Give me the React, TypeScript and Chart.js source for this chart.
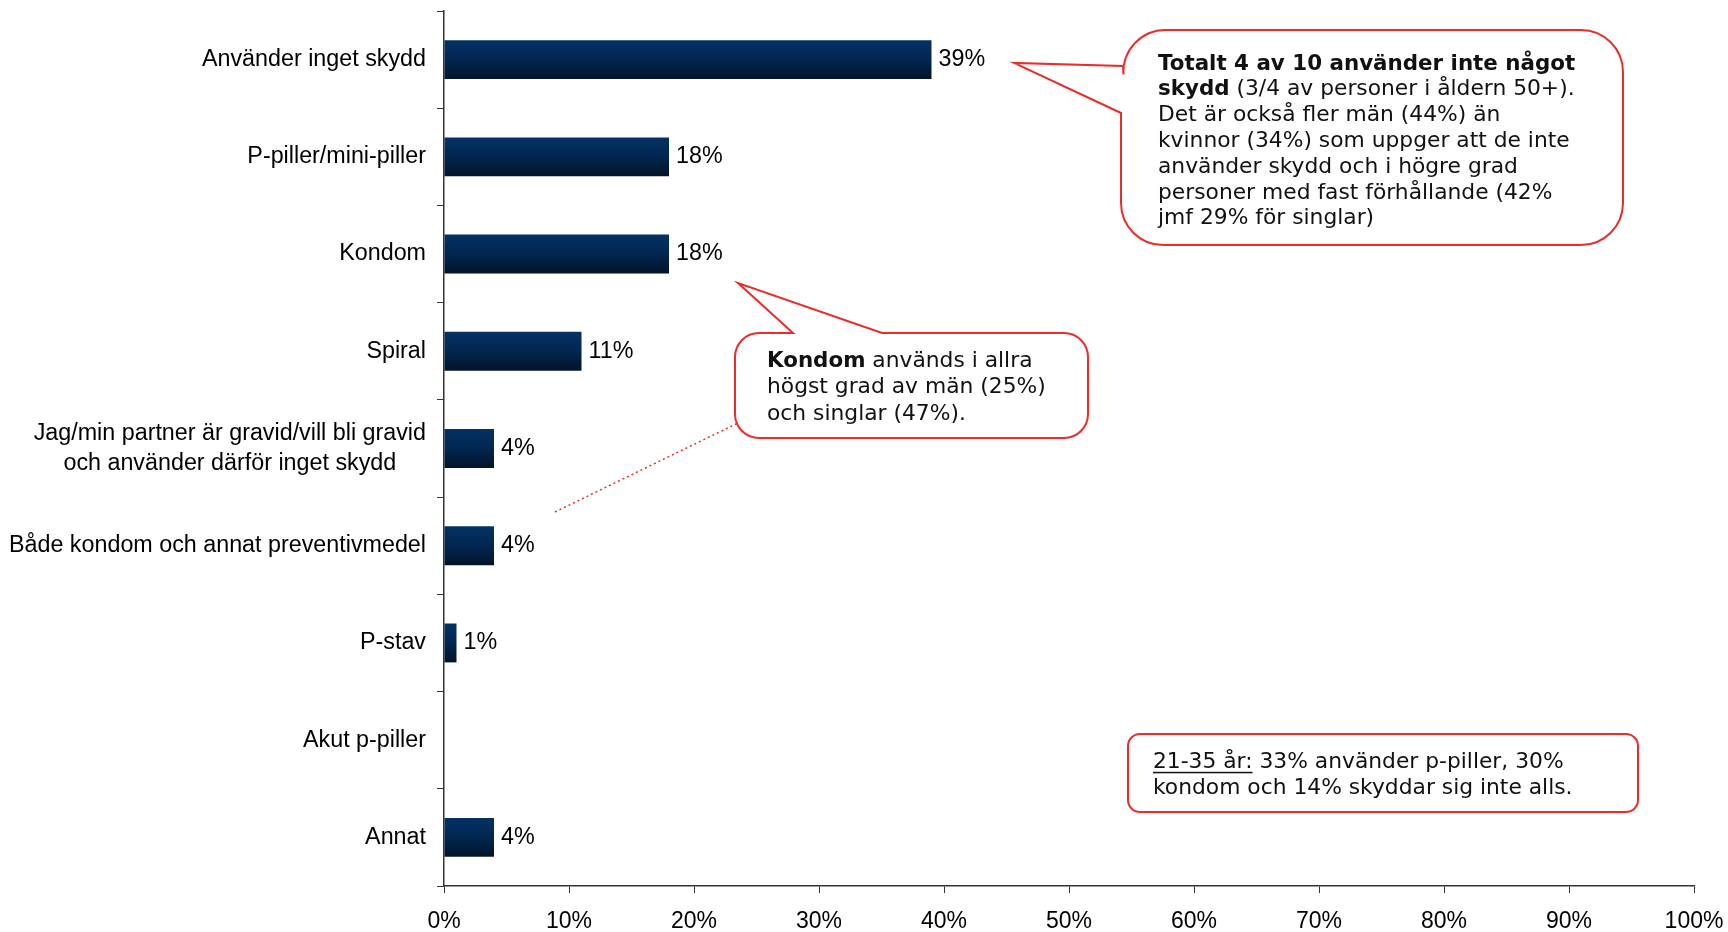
import { useEffect, useRef } from "react";
import { Chart, registerables } from "chart.js";

Chart.register(...registerables);

const categories: (string | string[])[] = [
  "Använder inget skydd",
  "P-piller/mini-piller",
  "Kondom",
  "Spiral",
  ["Jag/min partner är gravid/vill bli gravid", "och använder därför inget skydd"],
  "Både kondom och annat preventivmedel",
  "P-stav",
  "Akut p-piller",
  "Annat",
];
const values = [39, 18, 18, 11, 4, 4, 1, 0, 4];
const xMin = 0;
const xMax = 100;
const xStep = 10;

type Run = { t: string; b?: boolean; u?: boolean };
const callout1Lines: Run[][] = [
  [{ t: "Totalt 4 av 10 använder inte något", b: true }],
  [{ t: "skydd", b: true }, { t: " (3/4 av personer i åldern 50+)." }],
  [{ t: "Det är också fler män (44%) än" }],
  [{ t: "kvinnor (34%) som uppger att de inte" }],
  [{ t: "använder skydd och i högre grad" }],
  [{ t: "personer med fast förhållande (42%" }],
  [{ t: "jmf 29% för singlar)" }],
];
const callout2Lines: Run[][] = [
  [{ t: "Kondom", b: true }, { t: " används i allra" }],
  [{ t: "högst grad av män (25%)" }],
  [{ t: "och singlar (47%)." }],
];
const callout3Lines: Run[][] = [
  [{ t: "21-35 år:", u: true }, { t: " 33% använder p-piller, 30%" }],
  [{ t: "kondom och 14% skyddar sig inte alls." }],
];

const AX_FONT = '"Liberation Sans", Arial, sans-serif';
const CO_FONT = '"DejaVu Sans", Verdana, sans-serif';
const RED = "#ec2b2b";
const CO_SIZE = 21.8;
const CO_BOLD_SIZE = 21.4;

function drawRuns(ctx: CanvasRenderingContext2D, x: number, y: number, runs: Run[]) {
  let cx = x;
  for (const r of runs) {
    const size = r.b ? CO_BOLD_SIZE : CO_SIZE;
    ctx.font = `${r.b ? "bold " : ""}${size}px ${CO_FONT}`;
    ctx.fillText(r.t, cx, y);
    const w = ctx.measureText(r.t).width;
    if (r.u) {
      ctx.fillRect(cx, y + size * 0.45, w, 1.5);
    }
    cx += w;
  }
}

function drawLines(ctx: CanvasRenderingContext2D, x: number, y: number, lines: Run[][], lh: number) {
  ctx.fillStyle = "#111";
  ctx.textAlign = "left";
  ctx.textBaseline = "middle";
  lines.forEach((l, i) => drawRuns(ctx, x, y + i * lh, l));
}

const overlay = {
  id: "overlay",
  afterDatasetsDraw(chart: any) {
    const ctx: CanvasRenderingContext2D = chart.ctx;
    const xs = chart.scales.x;
    const ys = chart.scales.y;
    ctx.save();
    ctx.fillStyle = "#000";
    ctx.font = `23.3px ${AX_FONT}`;
    ctx.textBaseline = "middle";
    ctx.textAlign = "left";
    values.forEach((v, i) => {
      if (!v) return;
      ctx.fillText(v + "%", xs.getPixelForValue(v) + 7, ys.getPixelForValue(i));
    });
    ctx.textAlign = "center";
    categories.forEach((c, i) => {
      const lines = Array.isArray(c) ? c : [c];
      const w = Math.max(...lines.map((l) => ctx.measureText(l).width));
      const cx = ys.right - 18 - w / 2;
      const cy = ys.getPixelForValue(i);
      lines.forEach((l, k) => ctx.fillText(l, cx, cy + (k - (lines.length - 1) / 2) * 30));
    });
    ctx.restore();
  },
  afterDraw(chart: any) {
    const ctx: CanvasRenderingContext2D = chart.ctx;
    ctx.save();
    ctx.strokeStyle = RED;
    ctx.lineWidth = 2;
    ctx.fillStyle = "#fff";

    // dotted connector
    ctx.save();
    ctx.setLineDash([2, 3]);
    ctx.lineWidth = 1.5;
    ctx.beginPath();
    ctx.moveTo(555, 512);
    ctx.lineTo(740, 422);
    ctx.stroke();
    ctx.restore();

    // callout 1
    {
      const x0 = 1121, y0 = 30, x1 = 1623, y1 = 245, r = 42;
      ctx.beginPath();
      ctx.moveTo(x0 + r, y0);
      ctx.lineTo(x1 - r, y0);
      ctx.arcTo(x1, y0, x1, y0 + r, r);
      ctx.lineTo(x1, y1 - r);
      ctx.arcTo(x1, y1, x1 - r, y1, r);
      ctx.lineTo(x0 + r, y1);
      ctx.arcTo(x0, y1, x0, y1 - r, r);
      ctx.lineTo(x0, 113);
      ctx.lineTo(1014, 63);
      ctx.lineTo(x0 + 2, 66);
      ctx.arcTo(x0, y0, x0 + r, y0, r);
      ctx.closePath();
      ctx.fill();
      ctx.stroke();
    }
    // callout 2
    {
      const x0 = 735, y0 = 333, x1 = 1088, y1 = 438, r = 24;
      ctx.fillStyle = "#fff";
      ctx.beginPath();
      ctx.moveTo(x0 + r, y0);
      ctx.lineTo(793, y0);
      ctx.lineTo(738, 283);
      ctx.lineTo(882, y0);
      ctx.lineTo(x1 - r, y0);
      ctx.arcTo(x1, y0, x1, y0 + r, r);
      ctx.lineTo(x1, y1 - r);
      ctx.arcTo(x1, y1, x1 - r, y1, r);
      ctx.lineTo(x0 + r, y1);
      ctx.arcTo(x0, y1, x0, y1 - r, r);
      ctx.lineTo(x0, y0 + r);
      ctx.arcTo(x0, y0, x0 + r, y0, r);
      ctx.closePath();
      ctx.fill();
      ctx.stroke();
    }
    // callout 3
    {
      const x0 = 1128, y0 = 734, x1 = 1638, y1 = 812, r = 12;
      ctx.fillStyle = "#fff";
      ctx.beginPath();
      ctx.moveTo(x0 + r, y0);
      ctx.lineTo(x1 - r, y0);
      ctx.arcTo(x1, y0, x1, y0 + r, r);
      ctx.lineTo(x1, y1 - r);
      ctx.arcTo(x1, y1, x1 - r, y1, r);
      ctx.lineTo(x0 + r, y1);
      ctx.arcTo(x0, y1, x0, y1 - r, r);
      ctx.lineTo(x0, y0 + r);
      ctx.arcTo(x0, y0, x0 + r, y0, r);
      ctx.closePath();
      ctx.fill();
      ctx.stroke();
    }

    drawLines(ctx, 1158, 64, callout1Lines, 25.8);
    drawLines(ctx, 767, 361, callout2Lines, 26.5);
    drawLines(ctx, 1153, 762, callout3Lines, 26.5);
    ctx.restore();
  },
};

export default function App() {
  const ref = useRef<HTMLCanvasElement | null>(null);
  useEffect(() => {
    document.body.style.margin = "0";
    const canvas = ref.current;
    if (!canvas) return;
    const chart = new Chart(canvas, {
      type: "bar",
      data: {
        labels: categories as any,
        datasets: [
          {
            data: values,
            backgroundColor: (c: any) => {
              const ch = c.chart;
              const ys = ch.scales?.y;
              if (!ys || c.dataIndex === undefined) return "#022a55";
              const cy = ys.getPixelForValue(c.dataIndex);
              const h = (ys.height / categories.length) * 0.4;
              if (!isFinite(cy) || !isFinite(h) || h <= 0) return "#022a55";
              const g = ch.ctx.createLinearGradient(0, cy - h / 2, 0, cy + h / 2);
              g.addColorStop(0, "#033264");
              g.addColorStop(0.5, "#022650");
              g.addColorStop(1, "#011428");
              return g;
            },
            borderWidth: 0,
            categoryPercentage: 1,
            barPercentage: 0.4,
          },
        ],
      },
      options: {
        indexAxis: "y",
        animation: false,
        responsive: true,
        maintainAspectRatio: false,
        layout: { padding: { top: 11, right: 34, left: 0, bottom: 0 } },
        plugins: { legend: { display: false }, tooltip: { enabled: false } },
        scales: {
          y: {
            type: "category",
            offset: true,
            grid: { display: true, drawOnChartArea: false, drawTicks: true, tickLength: 7, color: "#333", offset: true },
            border: { display: true, color: "#333", width: 1.5 },
            ticks: { display: false },
            afterFit: (s: any) => {
              s.width = 444;
              s.paddingTop = 0;
              s.paddingBottom = 0;
            },
          },
          x: {
            type: "linear",
            min: xMin,
            max: xMax,
            ticks: {
              stepSize: xStep,
              callback: (v: any) => v + "%",
              color: "#000",
              font: { family: AX_FONT, size: 23 },
              padding: 15,
              maxRotation: 0,
            },
            grid: { display: true, drawOnChartArea: false, drawTicks: true, tickLength: 7, color: "#333" },
            border: { display: true, color: "#333", width: 1.5 },
            afterFit: (s: any) => {
              s.height = 46;
              s.paddingLeft = 0;
              s.paddingRight = 0;
            },
          },
        },
      } as any,
      plugins: [overlay],
    });
    return () => chart.destroy();
  }, []);
  return (
    <div style={{ width: 1728, height: 932, position: "relative" }}>
      <canvas ref={ref} />
    </div>
  );
}
